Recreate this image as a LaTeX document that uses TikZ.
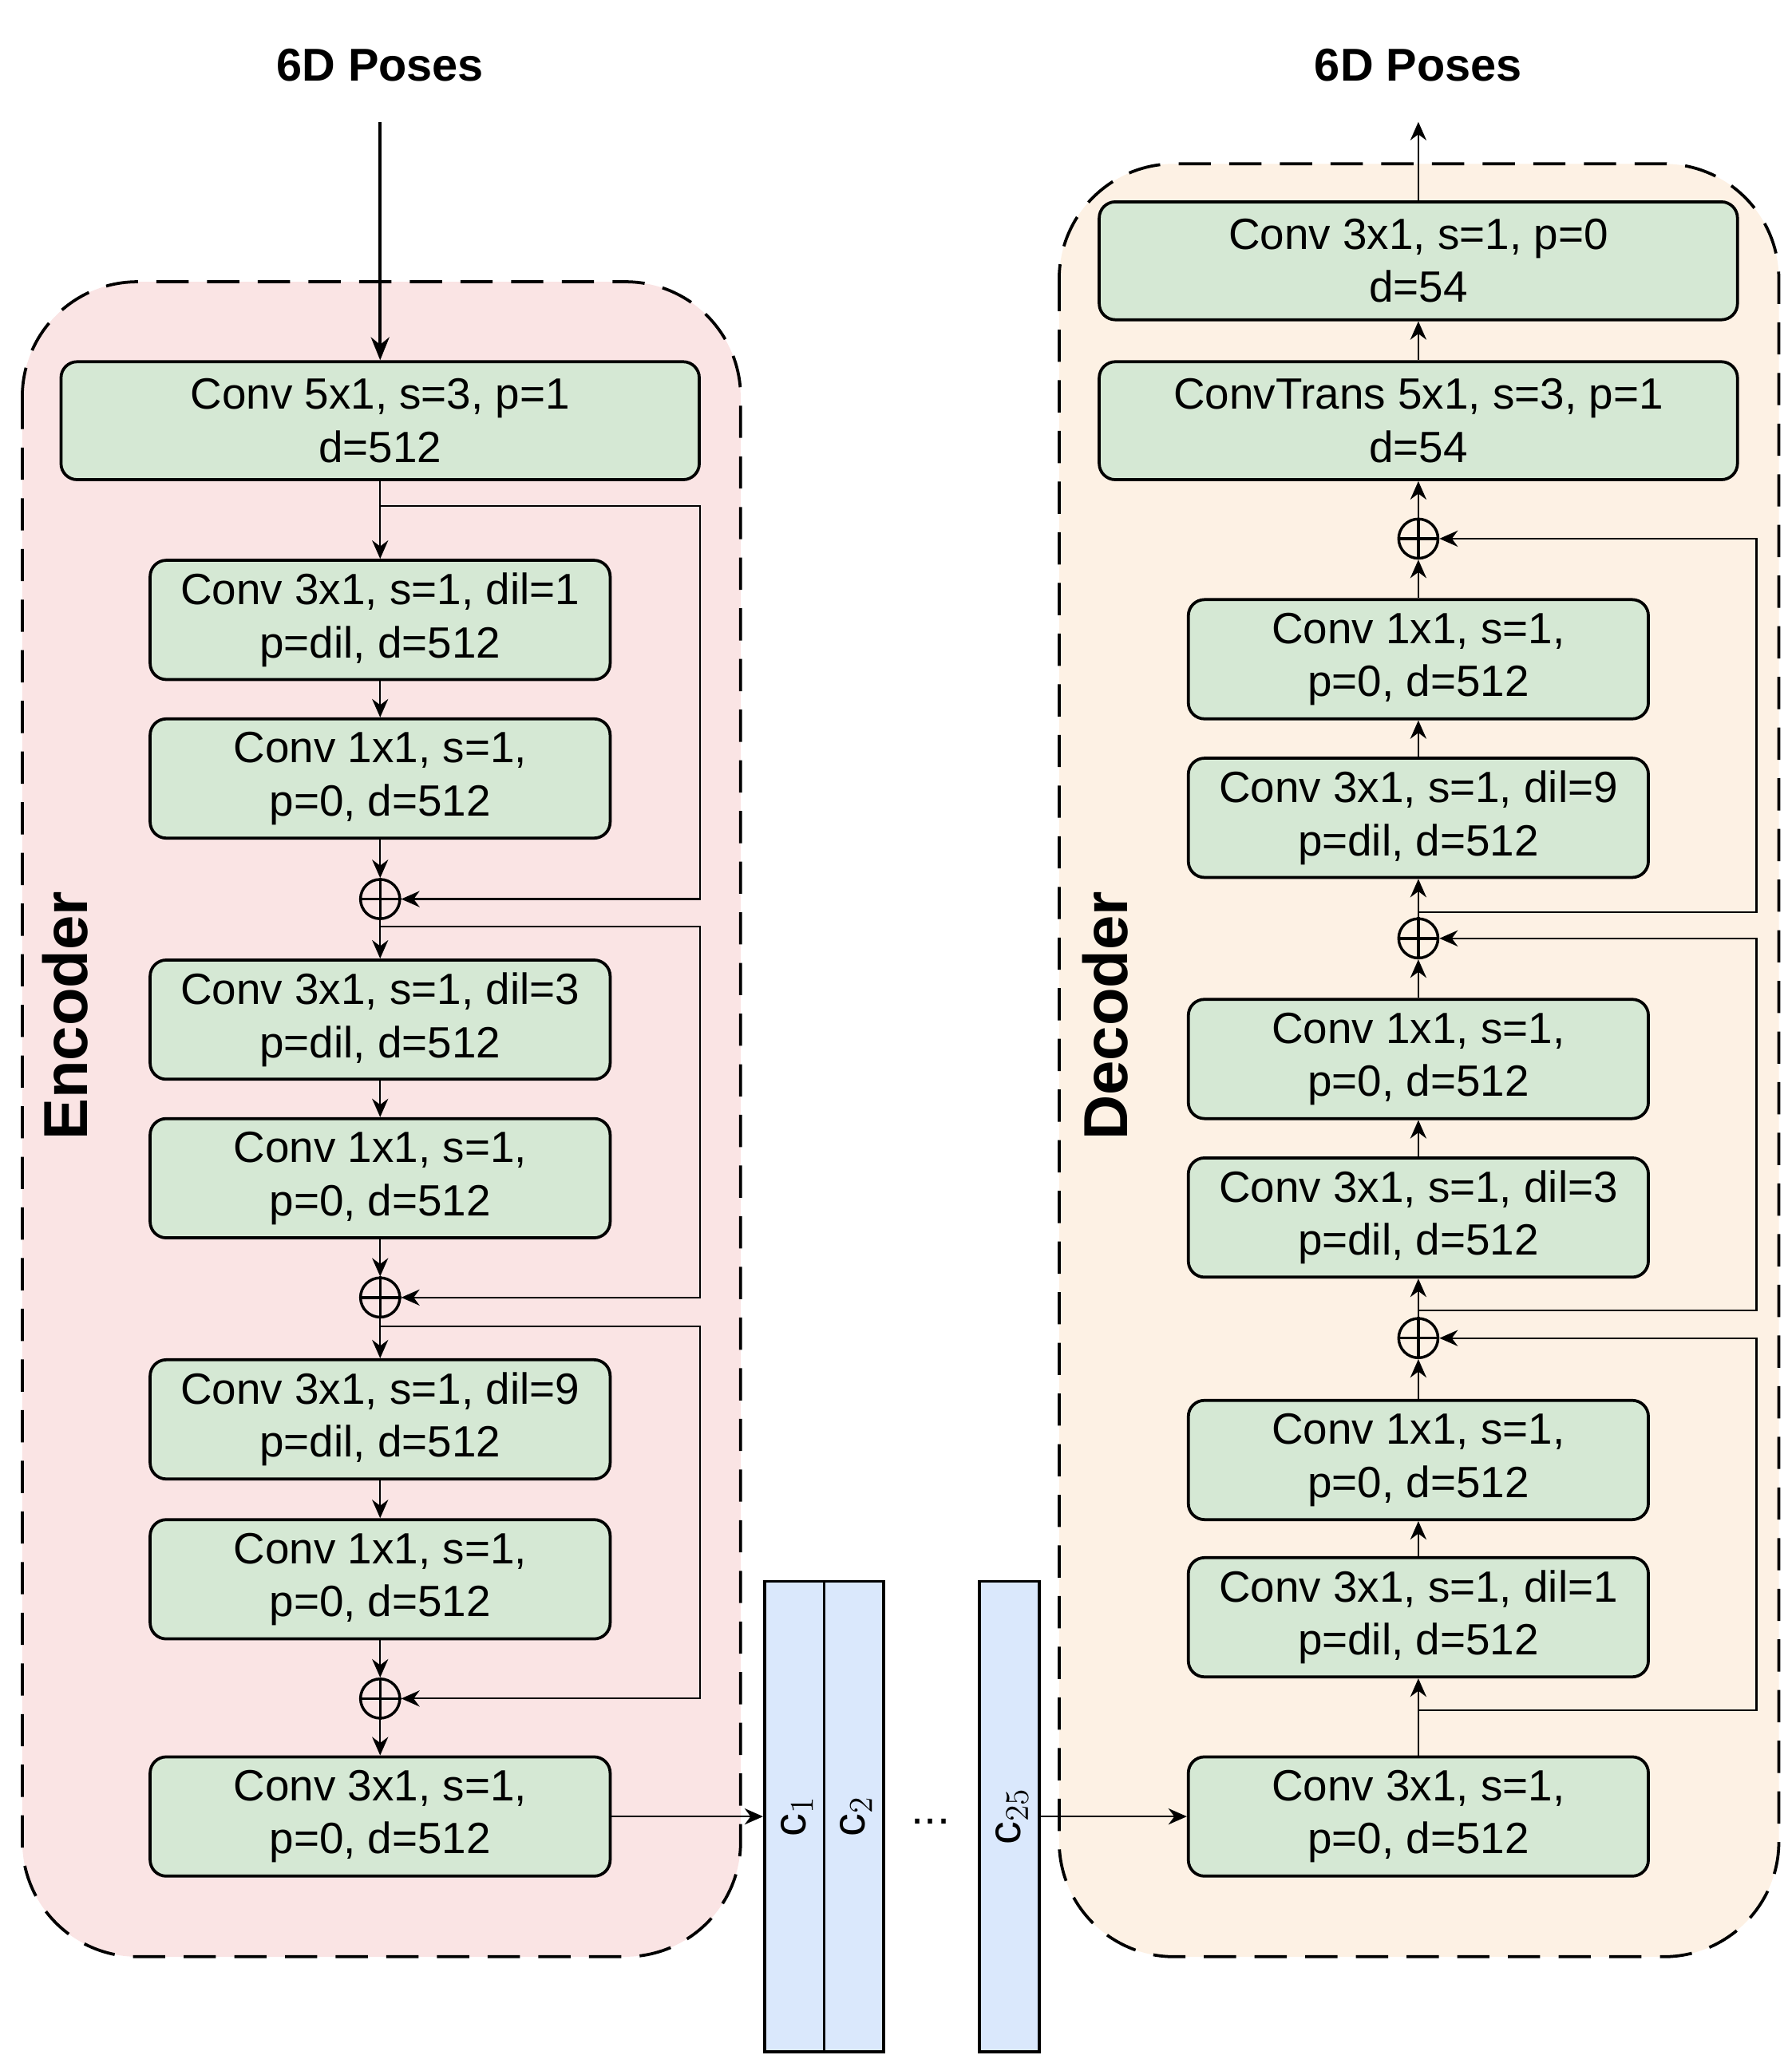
\documentclass[tikz,border=0pt]{standalone}
\usepackage{fontspec}
\setmainfont{Liberation Sans}
\usetikzlibrary{arrows.meta}
\definecolor{gfill}{HTML}{D5E8D4}
\definecolor{efill}{HTML}{FAE4E4}
\definecolor{dfill}{HTML}{FDF1E4}
\definecolor{bfill}{HTML}{DAE8FC}
\begin{document}
\begin{tikzpicture}[x=0.02cm,y=-0.02cm,
  blk/.style={draw,line width=1.3pt,rounded corners=7pt,fill=gfill,align=center,font=\fontsize{19}{23}\selectfont,inner sep=0},
  sm/.style={blk,minimum width=7.02cm,minimum height=1.82cm},
  wd/.style={blk,minimum width=9.74cm,minimum height=1.8cm},
  pl/.style={circle,draw,line width=1.2pt,minimum size=0.6cm,inner sep=0},
  ar/.style={-{Stealth[length=8pt,width=7pt]},line width=0.8pt},
  cont/.style={draw,line width=1.3pt,dash pattern=on 14pt off 8pt,rounded corners=50pt},
  col/.style={draw,line width=1.3pt,fill=bfill,minimum width=0.91cm,minimum height=7.18cm,inner sep=0}]
\useasboundingbox (0,0) rectangle (1367,1568);
\draw[cont,fill=efill] (17,215) rectangle (565,1493);
\draw[cont,fill=dfill] (808,125) rectangle (1357,1493);
\node[rotate=90,font=\fontsize{27}{30}\selectfont\bfseries] (enc) at (50,775) {Encoder};
\node[rotate=90,font=\fontsize{27}{30}\selectfont\bfseries] (dec) at (843,775) {Decoder};
\node[font=\fontsize{20}{24}\selectfont\bfseries] (tin) at (290,50) {6D Poses};
\node[font=\fontsize{20}{24}\selectfont\bfseries] (tout) at (1082,50) {6D Poses};
\coordinate (tinb) at (290,93);
\coordinate (toutb) at (1082,93);
% encoder
\node[wd] (e0) at (290,321) {Conv 5x1, s=3, p=1\\d=512};
\node[sm] (e1) at (290,473) {Conv 3x1, s=1, dil=1\\p=dil, d=512};
\node[sm] (e2) at (290,594) {Conv 1x1, s=1,\\p=0, d=512};
\node[pl] (p1) at (290,686) {};
\node[sm] (e3) at (290,778) {Conv 3x1, s=1, dil=3\\p=dil, d=512};
\node[sm] (e4) at (290,899) {Conv 1x1, s=1,\\p=0, d=512};
\node[pl] (p2) at (290,990) {};
\node[sm] (e5) at (290,1083) {Conv 3x1, s=1, dil=9\\p=dil, d=512};
\node[sm] (e6) at (290,1205) {Conv 1x1, s=1,\\p=0, d=512};
\node[pl] (p3) at (290,1296) {};
\node[sm] (e7) at (290,1386) {Conv 3x1, s=1,\\p=0, d=512};
\foreach \p in {p1,p2,p3} \draw[line width=1.2pt] (\p.north)--(\p.south) (\p.west)--(\p.east);
\draw[line width=1.3pt,-{Stealth[length=10pt,width=8pt]}] (tinb) -- (e0);
\draw[ar] (e0)--(e1); \draw[ar] (e1)--(e2); \draw[ar] (e2)--(p1); \draw[ar] (p1)--(e3);
\draw[ar] (e3)--(e4); \draw[ar] (e4)--(p2); \draw[ar] (p2)--(e5);
\draw[ar] (e5)--(e6); \draw[ar] (e6)--(p3); \draw[ar] (p3)--(e7);
\coordinate (s1) at (290,386); \coordinate (s2) at (290,707); \coordinate (s3) at (290,1012);
\draw[ar] (s1) -- (534,386) |- (p1.east);
\draw[ar] (s2) -- (534,707) |- (p2.east);
\draw[ar] (s3) -- (534,1012) |- (p3.east);
% latent
\node[col] (c1) at (606,1386) {}; \node[col] (c2) at (651.5,1386) {}; \node[col] (c25) at (770,1386) {};
\node[rotate=90,font=\fontsize{20}{24}\selectfont] at (608,1386) {c$_1$};
\node[rotate=90,font=\fontsize{20}{24}\selectfont] at (653,1386) {c$_2$};
\node[rotate=90,font=\fontsize{20}{24}\selectfont] at (772,1386) {c$_{25}$};
\node[font=\fontsize{20}{24}\selectfont] (dots) at (710,1390) {...};
\draw[ar] (e7) -- (c1);
% decoder
\node[sm] (d0) at (1082,1386) {Conv 3x1, s=1,\\p=0, d=512};
\node[sm] (d1) at (1082,1234) {Conv 3x1, s=1, dil=1\\p=dil, d=512};
\node[sm] (d2) at (1082,1114) {Conv 1x1, s=1,\\p=0, d=512};
\node[pl] (q1) at (1082,1021) {};
\node[sm] (d3) at (1082,929) {Conv 3x1, s=1, dil=3\\p=dil, d=512};
\node[sm] (d4) at (1082,808) {Conv 1x1, s=1,\\p=0, d=512};
\node[pl] (q2) at (1082,716) {};
\node[sm] (d5) at (1082,624) {Conv 3x1, s=1, dil=9\\p=dil, d=512};
\node[sm] (d6) at (1082,503) {Conv 1x1, s=1,\\p=0, d=512};
\node[pl] (q3) at (1082,411) {};
\node[wd] (d7) at (1082,321) {ConvTrans 5x1, s=3, p=1\\d=54};
\node[wd] (d8) at (1082,199) {Conv 3x1, s=1, p=0\\d=54};
\foreach \p in {q1,q2,q3} \draw[line width=1.2pt] (\p.north)--(\p.south) (\p.west)--(\p.east);
\draw[ar] (c25.east |- d0) -- (d0);
\draw[ar] (d0)--(d1); \draw[ar] (d1)--(d2); \draw[ar] (d2)--(q1); \draw[ar] (q1)--(d3);
\draw[ar] (d3)--(d4); \draw[ar] (d4)--(q2); \draw[ar] (q2)--(d5);
\draw[ar] (d5)--(d6); \draw[ar] (d6)--(q3); \draw[ar] (q3)--(d7); \draw[ar] (d7)--(d8);
\draw[ar] (d8) -- (toutb);
\coordinate (t1) at (1082,1305); \coordinate (t2) at (1082,1000); \coordinate (t3) at (1082,696);
\draw[ar] (t1) -- (1340,1305) |- (q1.east);
\draw[ar] (t2) -- (1340,1000) |- (q2.east);
\draw[ar] (t3) -- (1340,696) |- (q3.east);
\end{tikzpicture}
\end{document}
